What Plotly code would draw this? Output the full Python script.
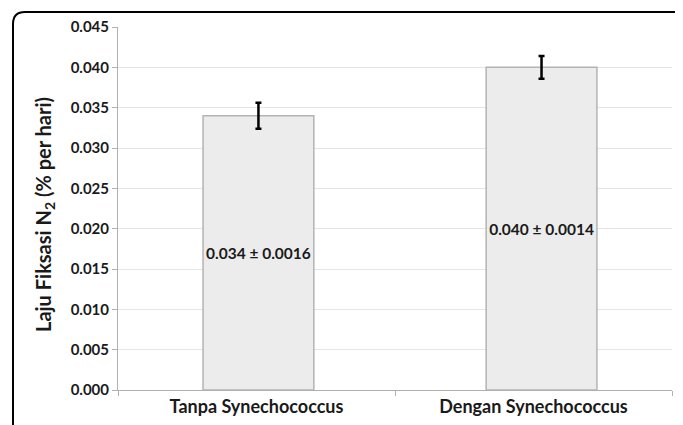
import plotly.graph_objects as go

categories = ["Tanpa Synechococcus", "Dengan Synechococcus"]
values = [0.034, 0.040]
errors = [0.0016, 0.0014]
labels = ["0.034 ± 0.0016", "0.040 ± 0.0014"]
y_ticks = [0.000, 0.005, 0.010, 0.015, 0.020, 0.025, 0.030, 0.035, 0.040, 0.045]

# page body has an 8px margin; figure coordinates below are screen - 8
OFF = 8
W, H = 683 - OFF, 425 - OFF
L, R, T, B = 118 - OFF, 11, 27 - OFF, 35
pw, ph = W - L - R, H - T - B

fig = go.Figure()
fig.add_trace(go.Bar(
    x=categories, y=values,
    width=0.4, offset=[-0.193, -0.171],
    marker=dict(color="#ececec", line=dict(color="#b4b4b4", width=1.5)),
    error_y=dict(type="data", array=errors, visible=True, color="black", thickness=2.5, width=3),
    text=labels, textposition="inside", insidetextanchor="middle",
    textfont=dict(family="Lato", size=16, color="#1a1a1a", weight="bold"),
    textangle=0,
    cliponaxis=False,
))

def px(x):
    return (x - OFF - L) / pw

def py(y):
    return (H - B - (y - OFF)) / ph

x0, x1 = px(13), px(720)
y0, y1 = py(12), py(450)
rx, ry = 12 / pw, 12 / ph
path = (f"M {x0} {y1} L {x0} {y0 - ry} Q {x0} {y0} {x0 + rx} {y0} L {x1} {y0}")
fig.add_shape(type="path", path=path, xref="paper", yref="paper",
              line=dict(color="black", width=2))

fig.add_annotation(
    text="Laju Fiksasi N<sub>2</sub> (% per hari)",
    xref="paper", yref="paper", x=px(44), y=py(215),
    textangle=-90, showarrow=False, xanchor="center", yanchor="middle",
    font=dict(family="Lato", size=20, color="#1a1a1a", weight="bold"),
)

fig.update_layout(
    width=W, height=H,
    margin=dict(l=L, r=R, t=T, b=B),
    paper_bgcolor="white", plot_bgcolor="white",
    showlegend=False,
    font=dict(family="Lato", color="#1a1a1a"),
)
fig.update_yaxes(
    range=[0, 0.045], tickvals=y_ticks, tickformat=".3f",
    tickfont=dict(family="Lato", size=15, color="#1a1a1a", weight="bold"),
    showgrid=True, gridcolor="#e4e4e4", gridwidth=1,
    showline=True, linecolor="#b0b0b0", linewidth=1,
    ticks="outside", ticklen=5, tickcolor="#b0b0b0",
    zeroline=False, automargin=False,
)
fig.update_xaxes(
    tickfont=dict(family="Lato", size=18, color="#1a1a1a", weight="bold"),
    showline=True, linecolor="#b0b0b0", linewidth=1,
    ticks="outside", tickson="boundaries", ticklen=5, tickcolor="#b0b0b0",
    automargin=False,
)
fig.write_html("out.html")
